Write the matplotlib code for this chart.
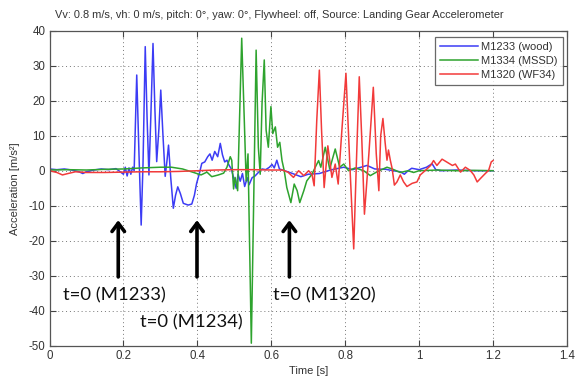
import matplotlib
matplotlib.use("Agg")
import matplotlib.pyplot as plt

plt.rcParams['axes.unicode_minus'] = False
plt.rcParams['font.family'] = ['Liberation Sans', 'DejaVu Sans']

# ---- data ----
t_blue = [0.0, 0.02, 0.04, 0.06, 0.08, 0.09, 0.10, 0.12, 0.14, 0.16, 0.18, 0.20, 0.205, 0.21, 0.215, 0.22,
          0.225, 0.229, 0.236, 0.242, 0.248, 0.253, 0.259, 0.264, 0.269, 0.274, 0.280, 0.285, 0.290, 0.296,
          0.301, 0.307, 0.313, 0.318, 0.322, 0.328, 0.335, 0.341, 0.347, 0.354, 0.362, 0.375, 0.385, 0.392,
          0.398, 0.405, 0.412, 0.420, 0.428, 0.434, 0.440, 0.447, 0.455, 0.462, 0.468, 0.474, 0.480, 0.486,
          0.492, 0.498, 0.505, 0.510, 0.516, 0.522, 0.528, 0.535, 0.540, 0.548, 0.556, 0.565, 0.575, 0.585,
          0.595, 0.602, 0.608, 0.615, 0.622, 0.630, 0.650, 0.680, 0.700, 0.730, 0.760, 0.796, 0.820, 0.859,
          0.880, 0.910, 0.930, 0.949, 0.960, 0.970, 0.980, 1.000, 1.020, 1.035, 1.045, 1.060, 1.100, 1.150,
          1.200]
a_blue = [0.5, 0.3, 0.5, 0.2, -0.3, -0.8, -0.3, 0.2, 0.5, 0.3, 0.6, -1.0, 1.0, -1.5, 0.8, -1.0,
          1.0, 0.0, 27.3, 5.0, -15.5, 2.0, 35.4, 15.0, -1.2, 15.0, 36.3, 18.0, 2.6, 12.0,
          23.0, 10.0, -1.6, 3.0, 7.3, -2.0, -10.7, -7.0, -4.6, -6.5, -9.3, -9.8, -9.5, -7.0,
          -3.6, -1.0, 2.1, 2.5, 4.0, 4.8, 3.0, 5.5, 4.0, 7.8, 4.5, 2.5, 3.0, 1.5,
          0.5, -2.0, -5.0, -1.0, -3.0, -0.8, -4.5, -2.0, -4.0, -2.0, -1.5, -0.5, 0.5, 0.3,
          1.0, 1.8, 0.8, 3.0, 0.5, 0.2, -0.5, -1.7, -1.0, -0.8, 0.2, 1.0, 0.3, 1.5,
          0.5, 0.4, 0.0, -0.3, -1.0, 0.0, 0.7, 0.3, 1.0, 2.0, 0.3, 0.0, 0.2, 0.0,
          0.0]

t_green = [0.0, 0.05, 0.10, 0.15, 0.20, 0.25, 0.30, 0.33, 0.36, 0.39, 0.41, 0.426, 0.439, 0.457, 0.471,
           0.480, 0.489, 0.493, 0.498, 0.502, 0.509, 0.514, 0.520, 0.527, 0.532, 0.537, 0.546, 0.553, 0.559,
           0.565, 0.570, 0.575, 0.581, 0.586, 0.592, 0.599, 0.604, 0.611, 0.617, 0.623, 0.629, 0.635, 0.642,
           0.653, 0.662, 0.670, 0.677, 0.688, 0.696, 0.710, 0.719, 0.728, 0.734, 0.746, 0.758, 0.773, 0.785,
           0.796, 0.809, 0.827, 0.850, 0.868, 0.886, 0.913, 0.927, 0.949, 0.970, 0.985, 1.000, 1.050, 1.100,
           1.150, 1.200]
a_green = [0.2, 0.3, 0.2, 0.4, 0.5, 0.8, 1.0, 1.0, 0.5, -0.5, -1.2, -0.4, -1.7, -1.2, -0.7,
           1.0, 4.0, 3.0, -5.2, -1.9, -5.7, 14.3, 37.8, 14.3, -2.9, 4.8, -49.2, -4.8, 34.4,
           6.7, -1.0, 19.2, 31.6, 11.6, 6.7, 18.3, 10.6, 12.5, 6.7, 8.1, 2.9, 0.0, -4.8,
           -9.1, -3.8, -5.7, -9.1, -5.7, -2.9, -1.0, 1.0, 2.9, 1.0, 6.7, 0.5, 6.2, 1.0,
           1.9, 0.0, 0.8, 0.0, -1.4, -0.3, 1.0, 0.5, -0.5, 0.0, -0.5, 0.0, 0.2, 0.0,
           0.1, 0.0]

t_red = [0.0, 0.02, 0.035, 0.05, 0.07, 0.10, 0.15, 0.20, 0.25, 0.30, 0.35, 0.40, 0.45, 0.50, 0.55,
         0.60, 0.630, 0.645, 0.660, 0.674, 0.688, 0.701, 0.710, 0.716, 0.723, 0.730, 0.736, 0.743, 0.753,
         0.764, 0.773, 0.781, 0.791, 0.802, 0.812, 0.823, 0.831, 0.838, 0.845, 0.852, 0.864, 0.876, 0.884,
         0.891, 0.896, 0.902, 0.908, 0.913, 0.917, 0.922, 0.927, 0.933, 0.940, 0.949, 0.958, 0.967, 0.981,
         0.994, 1.003, 1.017, 1.031, 1.039, 1.048, 1.062, 1.076, 1.090, 1.098, 1.112, 1.125, 1.138, 1.148,
         1.157, 1.166, 1.179, 1.188, 1.195, 1.200]
a_red = [0.0, -0.5, -1.2, -0.8, -0.3, -0.5, -0.5, -0.4, -0.3, -0.3, -0.2, 0.0, 0.2, 0.3, 0.3,
         0.2, 0.2, -0.4, -1.9, 0.0, -1.4, 0.0, -1.0, -4.3, 14.3, 28.7, 11.6, -4.8, 7.1,
         -1.9, 1.9, -3.8, 11.6, 27.8, 2.9, -22.3, 4.8, 26.8, 8.6, -12.4, 4.8, 23.8, 4.8,
         -5.7, 10.0, 14.9, 8.0, 3.0, 5.9, 3.0, 0.6, -4.1, -3.2, -1.2, -3.2, -4.5, -3.6,
         -3.2, -1.2, 0.1, 1.5, 2.9, 1.5, 3.3, 2.4, 1.5, 1.9, -0.4, 1.0, 0.1, -1.2,
         -3.2, -2.2, -0.8, 0.1, 2.5, 2.9]

series_labels = ['M1233 (wood)', 'M1334 (MSSD)', 'M1320 (WF34)']
arrow_x = [0.186, 0.399, 0.649]
note_texts = ['t=0 (M1233)', 't=0 (M1234)', 't=0 (M1320)']
note_x = [0.037, 0.245, 0.605]
note_y = [-35.7, -43.4, -35.7]
x_ticks = [0, 0.2, 0.4, 0.6, 0.8, 1.0, 1.2, 1.4]
x_ticklabels = ['0', '0.2', '0.4', '0.6', '0.8', '1', '1.2', '1.4']
y_ticks = [40, 30, 20, 10, 0, -10, -20, -30, -40, -50]

title = 'Vv: 0.8 m/s, vh: 0 m/s, pitch: 0°, yaw: 0°, Flywheel: off, Source: Landing Gear Accelerometer'

# ---- figure ----
fig = plt.figure(figsize=(5.76, 3.8), dpi=100)
ax = fig.add_axes([49.5 / 576, 1 - 346 / 380, (567 - 49.5) / 576, (346 - 30.5) / 380])

ax.plot(t_blue, a_blue, color='#3c3cf5', lw=1.1, label=series_labels[0])
ax.plot(t_green, a_green, color='#2ea32e', lw=1.1, label=series_labels[1])
ax.plot(t_red, a_red, color='#f23a3a', lw=1.1, label=series_labels[2])

ax.set_xlim(0, 1.4)
ax.set_ylim(-50, 40)
ax.set_xticks(x_ticks)
ax.set_xticklabels(x_ticklabels)
ax.set_yticks(y_ticks)
ax.tick_params(direction='in', top=True, right=True, length=4, width=0.8, color='#444',
               labelsize=8.3, labelcolor='#333', pad=3)
ax.grid(True, linestyle=(0, (1, 3)), color='#777', lw=0.7)
for s in ax.spines.values():
    s.set_color('#555')
    s.set_linewidth(0.9)

ax.set_xlabel('Time [s]', fontsize=8, color='#333', labelpad=3)
ax.set_ylabel('Acceleration [m/s²]', fontsize=8, color='#333', labelpad=6)
fig.text(279 / 576, 1 - 15 / 380, title, ha='center', va='center', fontsize=7.9, color='#333')

leg = ax.legend(loc='upper right', bbox_to_anchor=(0.992, 0.979), borderaxespad=0, fontsize=8,
                fancybox=False, edgecolor='#444', handlelength=3.4, handletextpad=0.3,
                borderpad=0.45, labelspacing=0.35)
leg.get_frame().set_linewidth(0.9)
for txt in leg.get_texts():
    txt.set_color('#333')

for xa in arrow_x:
    ax.annotate('', xy=(xa, -14.1), xytext=(xa, -30.3),
                arrowprops=dict(arrowstyle='->,head_width=0.45,head_length=0.6', lw=2.6,
                                color='black', shrinkA=0, shrinkB=0))
for tx, xx, yy in zip(note_texts, note_x, note_y):
    ax.text(xx, yy, tx, ha='left', va='center', fontsize=13.3, family=['Lato', 'DejaVu Sans'],
            color='#111')

fig.savefig('out.png', dpi=100)
